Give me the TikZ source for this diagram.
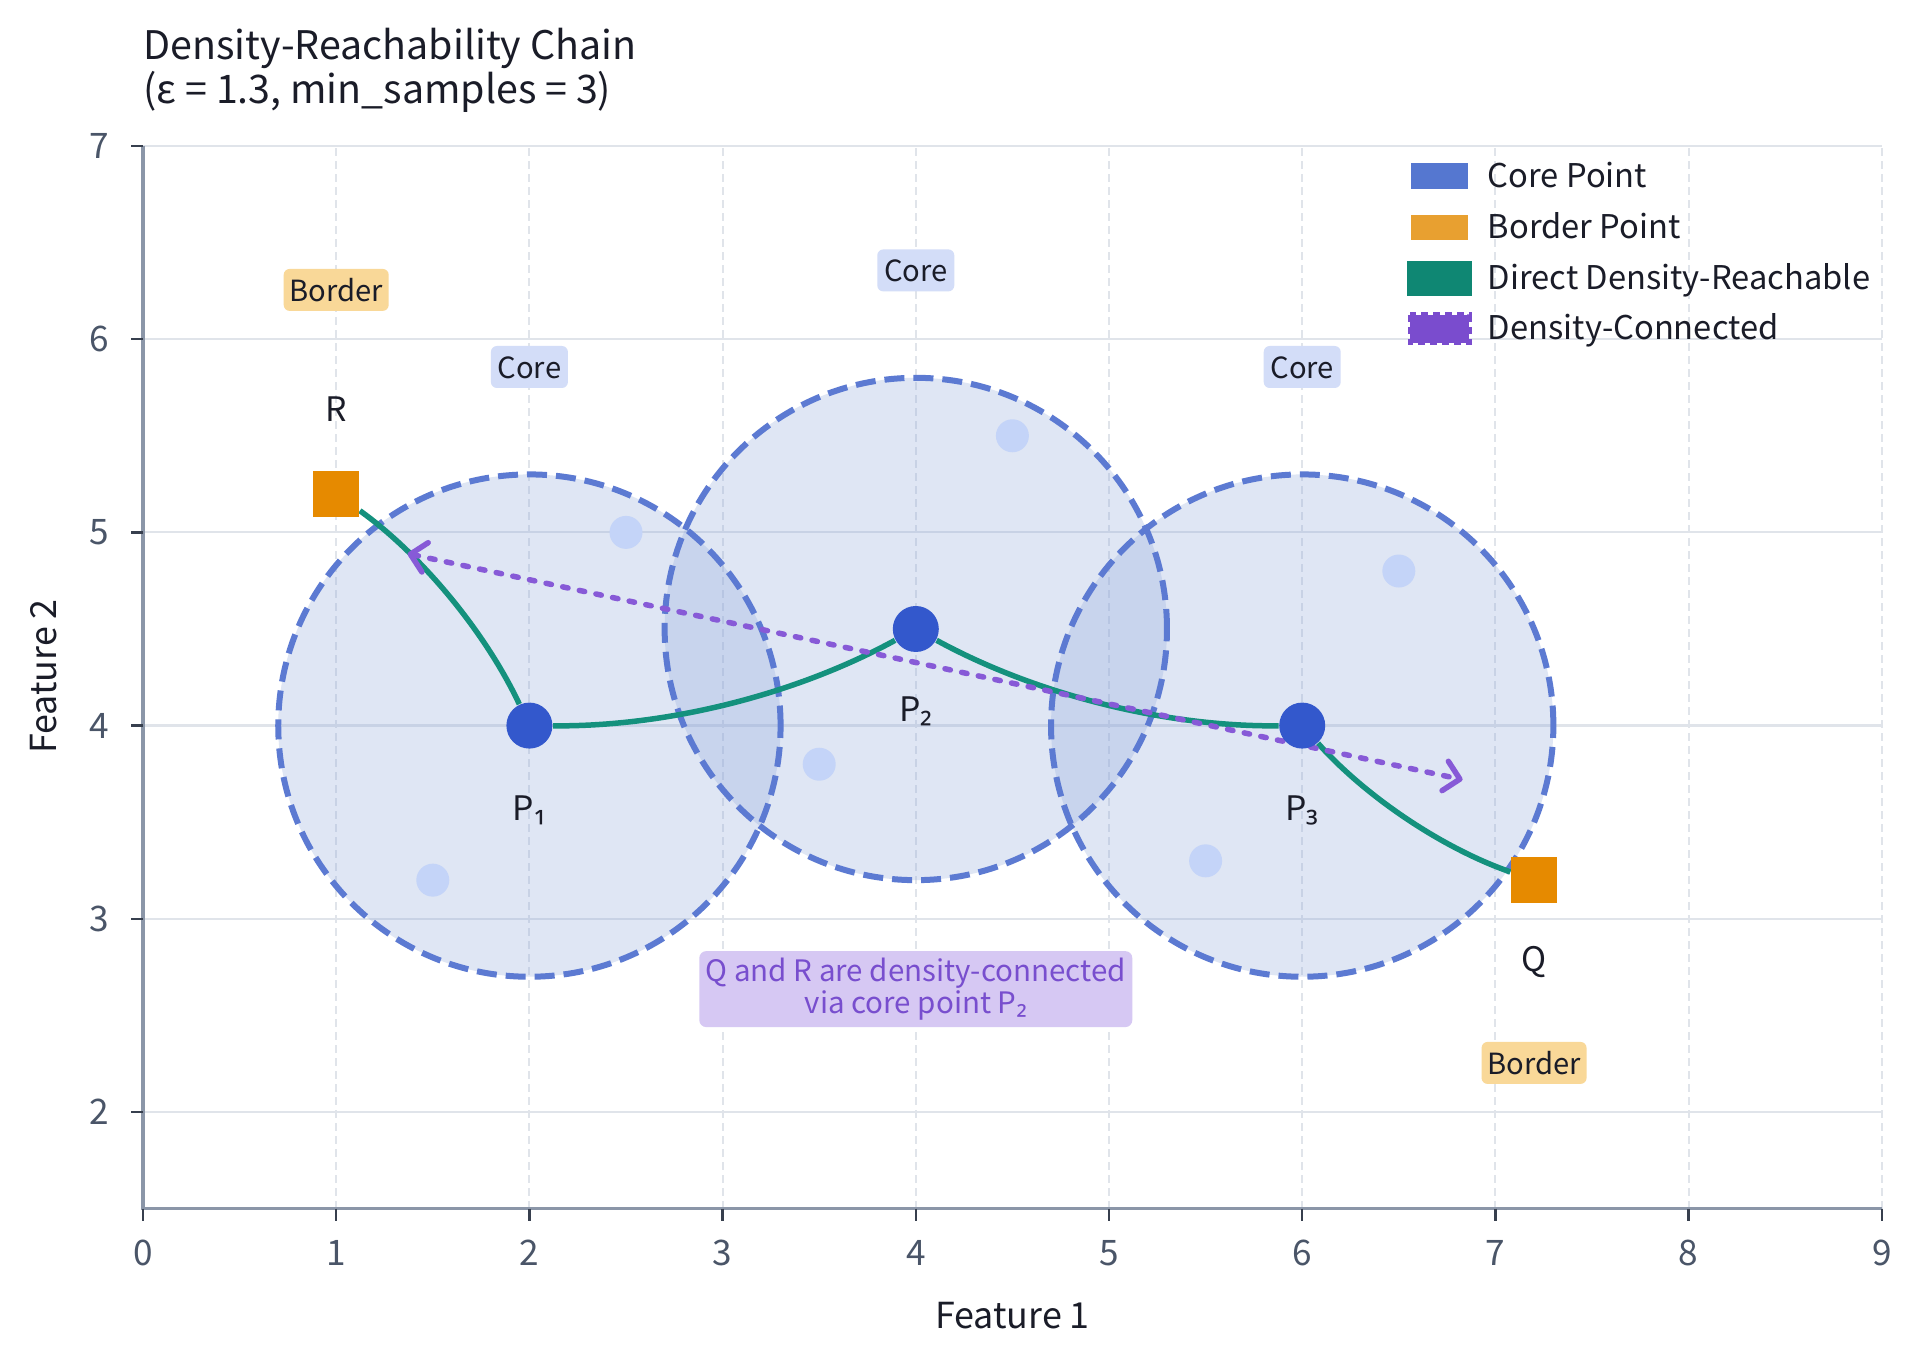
\documentclass[tikz,border=0pt]{standalone}
\usepackage{fontspec}
\setmainfont{Noto Sans CJK KR}
\newfontfamily\subfont{Noto Sans}
\newcommand{\sbo}{{\subfont ₁}}
\newcommand{\sbt}{{\subfont ₂}}
\newcommand{\sbh}{{\subfont ₃}}
\usetikzlibrary{arrows.meta}
\definecolor{coreblue}{RGB}{51,88,204}
\definecolor{corepatch}{RGB}{85,119,208}
\definecolor{bordor}{RGB}{230,138,0}
\definecolor{bordpatch}{RGB}{232,160,48}
\definecolor{mygreen}{RGB}{20,145,125}
\definecolor{leggreen}{RGB}{15,135,115}
\definecolor{mypurple}{RGB}{135,90,215}
\definecolor{legpurple}{RGB}{122,76,206}
\definecolor{lightpt}{RGB}{196,212,248}
\definecolor{circfillc}{RGB}{141,166,219}
\definecolor{circedge}{RGB}{92,122,210}
\definecolor{coretag}{RGB}{211,221,248}
\definecolor{bordtag}{RGB}{249,216,152}
\definecolor{notefill}{RGB}{214,200,243}
\definecolor{notetext}{RGB}{120,78,206}
\definecolor{gridc}{RGB}{224,228,234}
\definecolor{spinec}{RGB}{139,150,168}
\definecolor{tickc}{RGB}{55,63,78}
\definecolor{ticklab}{RGB}{74,85,104}
\definecolor{textdark}{RGB}{26,28,40}
\pgfdeclarelayer{bg}
\pgfsetlayers{bg,main}
\begin{document}
\begin{tikzpicture}[
  px/.style={x=0.01cm,y=-0.01cm,shift={(0cm,13.63cm)}},
  data/.style={shift={(1.43cm,-1.354cm)},x=1.932cm,y=1.932cm},
  gridh/.style={gridc,line width=0.022cm},
  gridv/.style={gridc,line width=0.02cm,dash pattern=on 0.08cm off 0.05cm},
  circfill/.style={fill=circfillc,fill opacity=0.28},
  circline/.style={circedge,line width=0.06cm,dash pattern=on 0.2cm off 0.09cm},
  lightdot/.style={fill=lightpt},
  corept/.style={circle,fill=coreblue,minimum size=0.46cm,inner sep=0pt},
  bordpt/.style={rectangle,fill=bordor,minimum size=0.46cm,inner sep=0pt},
  reach/.style={mygreen,line width=0.055cm},
  conn/.style={mypurple,line width=0.055cm,line cap=round,dash pattern=on 0.055cm off 0.115cm,
     {Straight Barb[length=0.15cm,width=0.3cm,round]}-{Straight Barb[length=0.15cm,width=0.3cm,round]}},
  ptlabel/.style={font=\fontsize{9.6}{12}\selectfont,text=textdark,inner sep=0pt,anchor=base},
  tagbox/.style={rounded corners=0.06cm,minimum height=0.42cm,text height=0.66em,text depth=0pt,
     inner sep=0pt,font=\fontsize{8.3}{10}\selectfont,text=textdark},
  coretagbox/.style={tagbox,fill=coretag,minimum width=0.77cm},
  bordtagbox/.style={tagbox,fill=bordtag,minimum width=1.05cm},
  ticklabel/.style={font=\fontsize{10}{12}\selectfont,text=ticklab,inner sep=0pt},
  legtext/.style={font=\fontsize{9.3}{12}\selectfont,text=textdark,inner sep=0pt,anchor=base west},
]
\useasboundingbox (0,0) rectangle (19.2,13.63);
\begin{pgfonlayer}{bg}
\fill[white] (0,0) rectangle (19.2,13.63);
\end{pgfonlayer}

% ---------- data area ----------
\begin{scope}[data]
  \node[corept] (p1) at (2,4) {};
  \node[corept] (p2) at (4,4.5) {};
  \node[corept] (p3) at (6,4) {};
  \node[bordpt] (r) at (1,5.2) {};
  \node[bordpt] (q) at (7.2,3.2) {};
  \coordinate (ca) at (1.37,4.89);
  \coordinate (cb) at (6.83,3.72);

  \node[ptlabel] (lp1) at (2,3.511) {P\sbo};
  \node[ptlabel] (lp2) at (4,4.019) {P\sbt};
  \node[ptlabel] (lp3) at (6,3.511) {P\sbh};
  \node[ptlabel] (lr) at (1,5.572) {R};
  \node[ptlabel] (lq) at (7.2,2.725) {Q};

  \node[coretagbox] (t1) at (2,5.856) {Core};
  \node[coretagbox] (t2) at (4,6.356) {Core};
  \node[coretagbox] (t3) at (6,5.856) {Core};
  \node[bordtagbox] (tr) at (1,6.255) {Border};
  \node[bordtagbox] (tq) at (7.2,2.254) {Border};

  \node[fill=notefill,rounded corners=0.07cm,minimum width=4.33cm,minimum height=0.76cm,
        inner sep=0pt,align=center,text=notetext,
        font=\fontsize{8.4}{9.1}\selectfont] (note) at (4,2.636)
        {Q and R are density-connected\\via core point P\sbt};

  \begin{pgfonlayer}{bg}
    \foreach \y in {2,...,7} \draw[gridh] (0,\y) -- (9,\y);
    \foreach \x in {1,...,9} \draw[gridv] (\x,1.5) -- (\x,7);
    \foreach \cx/\cy in {2/4,4/4.5,6/4} \fill[circfill] (\cx,\cy) circle (1.3);
    \foreach \cx/\cy in {2/4,4/4.5,6/4} \draw[circline] (\cx,\cy) circle (1.3);
    \foreach \lx/\ly in {2.5/5.0,1.5/3.2,3.5/3.8,4.5/5.5,5.5/3.3,6.5/4.8}
      \fill[lightdot] (\lx,\ly) circle (0.165cm);
    \draw[reach] (p1) .. controls (1.771,4.487) and (1.437,4.887) .. (r);
    \draw[reach] (p1) .. controls (2.71,3.993) and (3.377,4.16) .. (p2);
    \draw[reach] (p2) .. controls (4.623,4.16) and (5.29,3.993) .. (p3);
    \draw[reach] (p3) .. controls (6.331,3.629) and (6.731,3.363) .. (q);
    \draw[conn] (ca) -- (cb);
    \draw[spinec,line width=0.032cm] (0,7) -- (0,1.5) -- (9,1.5);
    \foreach \x in {0,...,9} {
      \draw[tickc,line width=0.025cm] (\x,1.5) -- ++(0,-0.12cm);
    }
    \foreach \y in {2,...,7} {
      \draw[tickc,line width=0.025cm] (0,\y) -- ++(-0.12cm,0);
    }
  \end{pgfonlayer}
  \foreach \x in {0,...,9} \node[ticklabel,anchor=base] (xl\x) at ([yshift=-0.57cm]\x,1.5) {\x};
  \foreach \y in {2,...,7} \node[ticklabel,anchor=east] (yl\y) at ([xshift=-0.33cm]0,\y) {\y};
\end{scope}

% ---------- page-level text (pixel coords) ----------
\begin{scope}[px]
  \node[anchor=base west,inner sep=0pt,text=textdark,font=\fontsize{11.2}{15}\selectfont] (title1) at (143,60) {Density-Reachability Chain};
  \node[anchor=base west,inner sep=0pt,text=textdark,font=\fontsize{11.2}{15}\selectfont] (title2) at (143,104) {(ε = 1.3, min\_samples = 3)};
  \node[anchor=base,inner sep=0pt,text=textdark,font=\fontsize{10.2}{13}\selectfont] (xlab) at (1013,1329) {Feature 1};
  \node[anchor=base,rotate=90,inner sep=0pt,text=textdark,font=\fontsize{10.2}{13}\selectfont] (ylab) at (57,677) {Feature 2};

  \fill[corepatch] (1412,163) rectangle (1469,189);
  \node[legtext] (lg1) at (1488,188) {Core Point};
  \fill[bordpatch] (1412,215) rectangle (1469,240);
  \node[legtext] (lg2) at (1488,239) {Border Point};
  \fill[leggreen] (1408,261) rectangle (1473,296);
  \node[legtext] (lg3) at (1488,290) {Direct Density-Reachable};
  \fill[legpurple] (1411,315) rectangle (1470,343);
  \draw[legpurple,line width=0.05cm,dash pattern=on 0.07cm off 0.05cm] (1411,315) rectangle (1470,343);
  \node[legtext] (lg4) at (1488,340) {Density-Connected};
\end{scope}
\end{tikzpicture}
\end{document}
